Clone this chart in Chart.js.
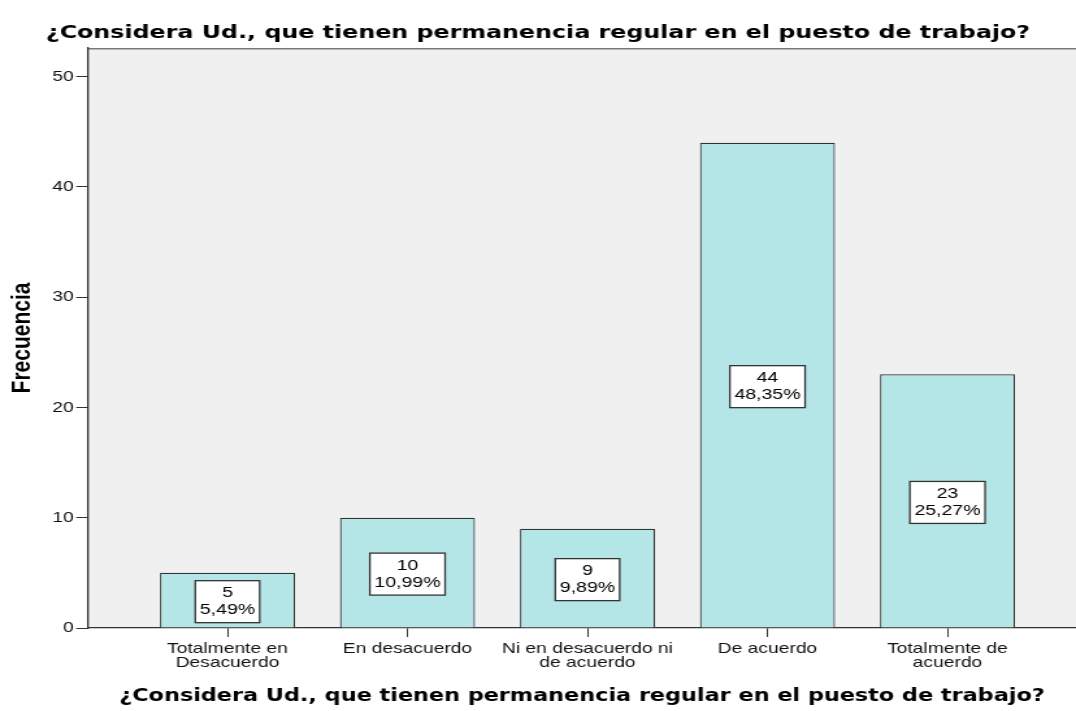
<!DOCTYPE html>
<html><head><meta charset="utf-8">
<script src="https://cdn.jsdelivr.net/npm/chart.js@4/dist/chart.umd.min.js"></script>
<style>html,body{margin:0;padding:0;background:#fff;overflow:hidden}</style></head>
<body><canvas id="c" width="828" height="711" style="display:block;width:1076px;height:711px"></canvas>
<script>
const chartTitle = "¿Considera Ud., que tienen permanencia regular en el puesto de trabajo?";
const yTitle = "Frecuencia";
const categories = [["Totalmente en","Desacuerdo"],["En desacuerdo"],["Ni en desacuerdo ni","de acuerdo"],["De acuerdo"],["Totalmente de","acuerdo"]];
const counts = [5, 10, 9, 44, 23];
const percents = ["5,49%", "10,99%", "9,89%", "48,35%", "25,27%"];
const yTicks = [0, 10, 20, 30, 40, 50];

const bgPlugin = {
  id: 'bg',
  beforeDraw(chart) {
    const {ctx, chartArea: a} = chart;
    ctx.save();
    ctx.fillStyle = '#f0f0f0';
    ctx.fillRect(a.left, a.top, a.right - a.left, a.bottom - a.top);
    ctx.strokeStyle = '#7a7a7a';
    ctx.lineWidth = 1.5;
    ctx.beginPath();
    ctx.moveTo(a.left, a.top + 0.75);
    ctx.lineTo(a.right, a.top + 0.75);
    ctx.stroke();
    ctx.restore();
  }
};

const labelPlugin = {
  id: 'boxLabels',
  afterDatasetsDraw(chart) {
    const ctx = chart.ctx;
    const meta = chart.getDatasetMeta(0);
    ctx.save();
    ctx.font = '15px "Liberation Sans", Arial, sans-serif';
    ctx.textAlign = 'center';
    ctx.textBaseline = 'middle';
    meta.data.forEach((bar, i) => {
      const lines = [String(counts[i]), percents[i]];
      const w = Math.max(...lines.map(l => ctx.measureText(l).width)) + 7;
      const h = 42;
      const cx = bar.x;
      const cy = (bar.y + bar.base) / 2 + 1.5;
      ctx.fillStyle = '#ffffff';
      ctx.fillRect(cx - w / 2, cy - h / 2, w, h);
      ctx.strokeStyle = '#333333';
      ctx.lineWidth = 1.3;
      ctx.strokeRect(cx - w / 2, cy - h / 2, w, h);
      ctx.fillStyle = '#000000';
      ctx.fillText(lines[0], cx, cy - 8.5);
      ctx.fillText(lines[1], cx, cy + 8.5);
    });
    ctx.restore();
  }
};

new Chart(document.getElementById('c'), {
  type: 'bar',
  data: {
    datasets: [{
      data: counts.map((v, i) => ({x: i + 1, y: v})),
      backgroundColor: '#b5e6e7',
      borderColor: '#333333',
      borderWidth: 1.2,
      categoryPercentage: 0.75,
      barPercentage: 1
    }]
  },
  options: {
    responsive: false,
    animation: false,
    devicePixelRatio: 1,
    layout: {padding: 0},
    plugins: {
      legend: {display: false},
      tooltip: {enabled: false},
      title: {
        display: true, text: chartTitle, color: '#000',
        font: {family: '"DejaVu Sans", sans-serif', size: 18.3, weight: 'bold', lineHeight: 1.2},
        padding: {top: 22, bottom: 4}
      }
    },
    scales: {
      x: {
        type: 'linear', min: 0.225, max: 5.714, offset: false,
        afterBuildTicks(s) { s.ticks = categories.map((c, i) => ({value: i + 1})); },
        ticks: {
          callback: (v) => categories[v - 1], autoSkip: false, maxRotation: 0, minRotation: 0,
          color: '#111', padding: 5,
          font: {family: '"Liberation Sans", Arial, sans-serif', size: 14.8, lineHeight: 0.95}
        },
        grid: {offset: false, drawOnChartArea: false, drawTicks: true, tickLength: 9, color: '#333', lineWidth: 1},
        border: {display: true, color: '#333', width: 1.3},
        title: {
          display: true, text: chartTitle, color: '#000',
          font: {family: '"DejaVu Sans", sans-serif', size: 17.2, weight: 'bold', lineHeight: 1.2},
          padding: {top: 0, bottom: 3.8}
        },
        afterFit(s) { s.height = 83; }
      },
      y: {
        min: 0, max: 52.6,
        afterBuildTicks(s) { s.ticks = yTicks.map(v => ({value: v})); },
        ticks: {color: '#111', padding: 2, font: {family: '"Liberation Sans", Arial, sans-serif', size: 14.8}},
        grid: {drawOnChartArea: false, drawTicks: true, tickLength: 9, color: '#333'},
        border: {display: true, color: '#333', width: 1.3},
        title: {
          display: true, text: yTitle, color: '#000',
          font: {family: '"Liberation Sans", Arial, sans-serif', size: 21, weight: 'bold', lineHeight: 1.2},
          padding: {top: 4.4, bottom: 0}
        },
        afterFit(s) { s.width = 67.7; }
      }
    }
  },
  plugins: [bgPlugin, labelPlugin]
});
</script>
</body></html>
